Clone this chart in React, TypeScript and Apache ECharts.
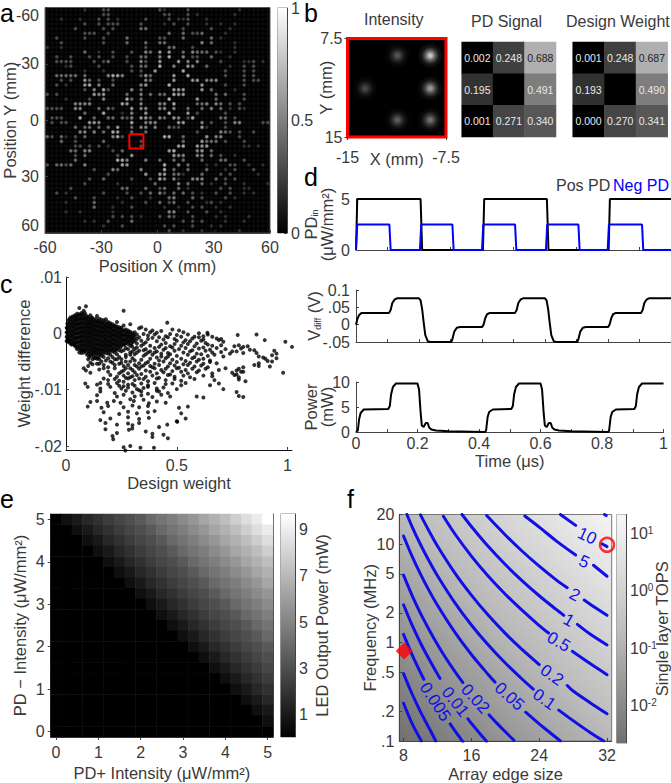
import React, { useEffect, useRef } from "react";
import * as echarts from "echarts";

const FONT = "Liberation Sans";
const INK = "#3a3a3a";

// ---- panel a: spot brightness (0-9), left and right half of each row, top row first
const SPOT_LEFT = [
  "111111112111331111111111","111111111111331111111111","111211121113131211111311","111111113113133311113111",
  "111111311111313111114411","111111113331131111111111","113111113111311114111111","111311111111311114111411",
  "211211111111111111111311","111111114112113111311541","113113111313113113114411","113333111131341113115311",
  "111123111113111111314411","111111112111211111313116","114444414111157751113641","111313116413113111111541",
  "113121116715114111115611","111111113151731111514111","313111111165611114115141","111121111311511118414111",
  "111111555511111176115111","333311551114143111615511","111111114111711121511611","133311171141144143516641",
  "131331111665111111711555","111111414414141611415515","111111155151417611411411","431421314111115731111111",
  "111411311111411111113111","111111331313121111113111","111114415511113141111111","111111314111111311611111",
  "111111411111111775111511","314434115111111176111111","111111111131115411115111","111111111111131111111611",
  "111111111311411111311131","111111113111111211111114","111113111111111144111411","113121111111311113113141",
  "111111311131111211311121","111121111141111121111311","111111111141112111311111","111121121111112111111111",
  "111111111111113131312111","111111112121131111411111","111111111111211131111111","111111111111111111111111",
];
const SPOT_RIGHT = [
  "321111311111111112111111","133111312111111121111111","113122311121111111111111","121311311121121121111111",
  "111113111113111211111111","114114133411112111111111","331114111114121111111111","441111111514111121111111",
  "114411131111111121111111","616114154441321121111111","517115133114111211111111","611161515111131111223121",
  "911511651141111211313111","111117111111113111313111","111611711111113111313111","111611166155511111313311",
  "119111111611113111311111","111666111614111121111111","441766111111414111311111","119111116111411111311111",
  "551711114451541313111111","551511411415141213211111","118111613111113111111111","541651371111144131111111",
  "111166111513113155111133","114331111621113111111111","111111113111154313113111","177114111161551113111111",
  "111114111644413111311111","111167116661111111221211","116811115614111111111111","111655115514131121111111",
  "411414111411144111311111","181151411121211331121121","171411411141112131113111","661442111411131311111211",
  "751521155511413131111111","111151411412113111211112","341141211111131311221111","531414131211311311212111",
  "114511141311113121111111","413411311123121111111111","121121131311211211111111","115511311131121111111111",
  "314311131111212111121111","111113131311112111211111","131311131112121111111111","113112111211111112111111",
];
const SPOT_GRAY = [10, 17, 70, 110, 150, 185, 215, 240, 250, 255];
const SELECTION_BOX = [[-15, 7.5], [-7.5, 7.5], [-7.5, 15], [-15, 15], [-15, 7.5]];

// ---- panel b
const INTENSITY_SPOTS = [
  [-11.2, 8.8, 0.43], [-8.7, 8.8, 1.0], [-13.65, 11.3, 0.36],
  [-8.7, 11.3, 0.78], [-11.2, 13.7, 0.47], [-8.7, 13.7, 0.58],
];
const PD_SIGNAL = [[0.002, 0.248, 0.688], [0.195, null, 0.491], [0.001, 0.271, 0.34]];
const DESIGN_WEIGHT = [[0.001, 0.248, 0.687], [0.193, null, 0.49], [0.0, 0.27, 0.341]];

// ---- panel c: weight difference (x 1e-3) against design weight.
// Each dense column: [design weight, ...differences]
const CLOUD_COLUMNS = [
  [0.003, 1, 0.2, -0.6, -1.4], [0.01, 2.2, 1.4, 0.6, -0.2, -1, -1.5], [0.02, 2.8, 2, 1.2, 0.4, -0.4, -1.2, -1.8],
  [0.03, 3, 2.2, 1.4, 0.6, -0.2, -1, -1.8], [0.04, 3.2, 2.4, 1.6, 0.8, 0, -0.8, -1.6, -2.2],
  [0.05, 3.5, 2.8, 2, 1.2, 0.4, -0.4, -1.2, -2, -2.8], [0.06, 4.5, 3.4, 2.6, 1.8, 1, 0.2, -0.6, -1.4, -2.2, -3.4],
  [0.07, 3.6, 2.8, 2, 1.2, 0.4, -0.4, -1.2, -2, -2.8, -3.5], [0.08, 4, 3, 2.2, 1.4, 0.6, -0.2, -1, -1.8, -2.6, -3.4, -6.2],
  [0.09, 4.8, 3.2, 2.4, 1.6, 0.8, 0, -0.8, -1.6, -2.4, -3.2, -6.6], [0.1, 2.9, 2.1, 1.3, 0.5, -0.3, -1.1, -1.9, -2.7, -3.6, -4.6, -5.8],
  [0.11, 3.2, 2.4, 1.6, 0.8, 0, -0.8, -1.6, -2.4, -3.2, -4, -5.2], [0.12, 2.7, 1.9, 1.1, 0.3, -0.5, -1.3, -2.1, -2.9, -3.7, -4.6, -5.5],
  [0.13, 2.2, 1.4, 0.6, -0.2, -1, -1.8, -2.6, -3.4, -4.4], [0.14, 3.1, 2, 1.2, 0.4, -0.4, -1.2, -2, -2.8, -3.6, -4.5, -5.4],
  [0.15, 2.6, 1.8, 1, 0.2, -0.6, -1.4, -2.2, -3, -3.8, -4.6, -5.4], [0.16, 2.4, 1.6, 0.8, 0, -0.8, -1.6, -2.4, -3.2, -4, -5],
  [0.17, 2.3, 1.5, 0.7, -0.1, -0.9, -1.7, -2.5, -3.3, -4.2, -5.6], [0.18, 2.5, 1.4, 0.6, -0.2, -1, -1.8, -2.6, -3.5, -4.8],
  [0.19, 2, 1.2, 0.4, -0.4, -1.2, -2, -2.8, -3.6, -4.4, -6],
  [0.2, 1.8, 1, 0.2, -0.6, -1.4, -2.2, -3, -3.8, -5], [0.21, 1.6, 0.8, 0, -0.8, -1.6, -2.4, -3.2, -4.2],
  [0.22, 1.4, 0.6, -0.2, -1, -1.8, -2.6, -3.4, -4.6, -5.6], [0.23, 2, 1.2, 0.4, -0.4, -1.2, -2, -2.8, -3.7],
  [0.24, 1.1, 0.3, -0.5, -1.3, -2.1, -3, -4.2], [0.25, 1, 0.2, -0.6, -1.4, -2.2, -3.2, -4.6],
  [0.26, 4, 1.4, 0.4, -0.4, -1.2, -2, -3], [0.27, 0.7, -0.1, -0.9, -1.7, -2.6, -3.8, -5],
  [0.28, 0.5, -0.3, -1.1, -1.9, -2.8], [0.29, 1.6, 0.3, -0.5, -1.3, -2.2, -3.4],
  [0.3, 0, -0.8, -1.6, -2.4], [0.31, 0.2, -0.6, -1.4, -2.8], [0.32, -0.2, -1, -1.8],
  [0.006, 1.7, 0.9, 0.1, -0.7, -1.2], [0.015, 2.5, 1.7, 0.9, 0.1, -0.7, -1.5], [0.025, 2.6, 1.8, 1, 0.2, -0.6, -1.4, -2],
  [0.035, 2.8, 2, 1.2, 0.4, -0.4, -1.2, -2], [0.045, 3, 2.4, 1.6, 0.8, 0, -0.8, -1.6, -2.4], [0.055, 3.2, 2.4, 1.6, 0.8, 0, -0.8, -1.6, -2.6],
  [0.065, 3.2, 2.4, 1.6, 0.8, 0, -0.8, -1.6, -2.4, -3], [0.075, 3.4, 2.6, 1.8, 1, 0.2, -0.6, -1.4, -2.2, -3], [0.085, 3.6, 2.6, 1.8, 1, 0.2, -0.6, -1.4, -2.2, -3],
  [0.095, 2.8, 2, 1.2, 0.4, -0.4, -1.2, -2, -2.8, -3.8], [0.105, 2.5, 1.7, 0.9, 0.1, -0.7, -1.5, -2.3, -3.2, -4.2], [0.115, 2.8, 2, 1.2, 0.4, -0.4, -1.2, -2, -2.8, -3.6],
  [0.125, 2.3, 1.5, 0.7, -0.1, -0.9, -1.7, -2.5, -3.3, -4.2], [0.135, 2.6, 1.8, 1, 0.2, -0.6, -1.4, -2.2, -3, -3.9], [0.145, 2.2, 1.4, 0.6, -0.2, -1, -1.8, -2.6, -3.4, -4.3],
  [0.155, 2, 1.2, 0.4, -0.4, -1.2, -2, -2.8, -3.6], [0.165, 1.9, 1.1, 0.3, -0.5, -1.3, -2.1, -2.9, -3.7], [0.175, 1.9, 1.1, 0.3, -0.5, -1.3, -2.1, -3],
  [0.185, 1.8, 1, 0.2, -0.6, -1.4, -2.2, -3], [0.195, 1.6, 0.8, 0, -0.8, -1.6, -2.4, -3.2], [0.205, 1.3, 0.5, -0.3, -1.1, -1.9, -2.7],
  [0.215, 1.2, 0.4, -0.4, -1.2, -2, -2.9], [0.225, 1, 0.2, -0.6, -1.4, -2.2, -3], [0.235, 0.8, 0, -0.8, -1.6, -2.4],
  [0.245, 0.7, -0.1, -0.9, -1.7, -2.5], [0.255, 0.6, -0.2, -1, -1.8], [0.265, 0.4, -0.4, -1.2, -2],
  [0.275, 0.2, -0.6, -1.4], [0.285, 0.1, -0.7, -1.5], [0.295, -0.2, -1, -1.9], [0.305, -0.3, -1.1],
];
// Sparse scattered points: [design weight, difference]
const CLOUD_SPARSE = [
  [.33,.9],[.34,1.1],[.36,.7],[.38,.2],[.39,.5],[.41,.1],[.43,.4],[.48,.7],[.51,.5],[.53,.2],[.6,0],[.638,.1],[.457,1.9],
  [.35,-.1],[.37,-.4],[.4,-.2],[.45,-.5],[.47,-.1],[.5,-.3],[.58,-.6],[.64,-.2],[.775,-.3],[.86,-.2],[.42,-.7],[.55,-.2],[.62,-.5],
  [.33,-.7],[.37,-1],[.39,-.8],[.44,-1.1],[.46,-.7],[.49,-1],[.52,-.6],[.54,-1.2],[.57,-.9],[.6,-.7],[.62,-1.1],[.66,-.6],[.68,-.9],[.7,-1],
  [.34,-1.3],[.36,-1.6],[.41,-1.4],[.45,-1.7],[.5,-1.3],[.53,-1.6],[.56,-1.4],[.59,-1.8],[.61,-1.3],[.63,-1.7],[.69,-1.2],[.71,-1.5],[.897,-1.2],[.99,-1.5],
  [.35,-1.9],[.38,-2.2],[.43,-2],[.47,-2.3],[.49,-1.9],[.52,-2.2],[.55,-1.9],[.58,-2.3],[.64,-2],[.66,-2.2],[.7,-2.1],[.76,-2.3],[.78,-2.1],[.8,-2.4],[.82,-2.3],
  [.32,-2.5],[.36,-2.8],[.4,-2.6],[.44,-2.9],[.48,-2.5],[.51,-2.8],[.54,-2.6],[.57,-3],[.6,-2.7],[.62,-2.5],[.65,-2.9],[.68,-2.6],[.72,-2.8],[.75,-3.2],[.79,-2.7],[.83,-2.9],[.85,-3],[1.02,-2.4],
  [.33,-3.1],[.37,-3.4],[.41,-3.2],[.46,-3.5],[.49,-3.1],[.53,-3.4],[.56,-3.2],[.59,-3.6],[.63,-3.1],[.66,-3.4],[.7,-3.3],[.74,-3.6],[.77,-3.2],[.8,-3.5],[.86,-3.5],[.94,-3.1],[.95,-3.6],
  [.31,-3.7],[.35,-4],[.39,-3.8],[.43,-4.1],[.47,-3.7],[.5,-4],[.55,-3.8],[.58,-4.2],[.61,-3.7],[.64,-4],[.67,-3.8],[.71,-4.1],[.87,-4.1],[.89,-4.3],[.93,-3.9],[.95,-4.4],
  [.3,-4.4],[.34,-4.7],[.38,-4.5],[.42,-4.8],[.45,-4.4],[.48,-4.7],[.52,-4.5],[.54,-4.9],[.57,-4.4],[.6,-4.7],[.62,-4.5],[.65,-4.8],[.9,-4.5],[.91,-4.9],
  [.29,-5],[.33,-5.3],[.37,-5.1],[.4,-5.4],[.44,-5],[.47,-5.3],[.5,-5.1],[.53,-5.5],[.56,-5.2],[.59,-5],[.62,-5.4],[.65,-5.1],[.68,-5.3],[.87,-5.3],[.85,-5.6],[.93,-5],
  [.28,-5.6],[.32,-5.9],[.35,-5.7],[.39,-6],[.42,-5.6],[.46,-5.9],[.49,-5.7],[.51,-6.1],[.55,-5.6],[.58,-5.9],[.61,-5.7],[.64,-6],[.78,-6.3],[.8,-6],[.87,-5.8],[.92,-5.9],
  [.27,-6.2],[.3,-6.5],[.33,-6.3],[.36,-6.6],[.4,-6.2],[.43,-6.5],[.45,-6.3],[.48,-6.7],[.5,-6.2],[.54,-6.5],[.57,-6.3],[.6,-6.6],[.63,-6.3],[.69,-6.5],[.72,-6.2],[.77,-6.6],[.79,-6.8],
  [.11,-7],[.25,-6.8],[.28,-7.1],[.31,-6.9],[.34,-7.2],[.38,-6.8],[.41,-7.1],[.44,-6.9],[.47,-7.3],[.52,-6.8],[.55,-7.1],[.59,-6.9],[.66,-7.1],[.75,-7],[.77,-7.3],[.8,-6.8],[.98,-7],
  [.2,-7.4],[.23,-7.7],[.26,-7.5],[.29,-7.8],[.32,-7.4],[.36,-7.7],[.39,-7.5],[.42,-7.9],[.46,-7.4],[.49,-7.7],[.53,-7.5],[.56,-7.8],[.62,-7.5],[.66,-7.6],[.76,-7.4],[.78,-7.8],
  [.17,-8],[.19,-8.3],[.22,-8.1],[.24,-8.4],[.28,-8],[.31,-8.3],[.35,-8.1],[.37,-8.5],[.41,-8],[.45,-8.3],[.49,-8.1],[.52,-8.4],[.58,-8.1],[.67,-8.3],[.78,-8.2],[.81,-8.5],
  [.087,-8.9],[.14,-9.1],[.155,-8.8],[.19,-9],[.23,-8.8],[.28,-9.1],[.34,-8.9],[.37,-9.2],[.4,-8.8],[.45,-9],[.48,-8.9],[.52,-9.2],[.54,-8.8],[.65,-9.2],[.69,-8.9],
  [.098,-9.5],[.155,-9.8],[.2,-9.5],[.25,-9.8],[.28,-9.6],[.32,-9.9],[.37,-9.5],[.41,-9.8],[.44,-9.6],[.5,-9.9],[.71,-9.9],[.26,-9.4],[.31,-9.3],
  [.155,-10.3],[.22,-10.6],[.27,-10.2],[.3,-10.5],[.34,-10.3],[.37,-10.7],[.42,-10.3],[.46,-10.6],[.77,-10.4],[.33,-10.1],[.41,-10.2],
  [.14,-11],[.23,-11.2],[.26,-10.9],[.31,-11.2],[.34,-11],[.39,-11.3],[.43,-10.9],[.47,-11.2],[.59,-11.2],[.62,-11.4],[.78,-11.1],[.8,-11.3],
  [.11,-12.2],[.14,-12],[.186,-12.3],[.216,-12],[.246,-12.3],[.306,-12],[.374,-12.4],[.41,-12.1],[.45,-12.3],[.29,-11.7],[.35,-11.8],
  [.098,-13],[.16,-13.2],[.19,-12.9],[.26,-13.1],[.3,-12.8],[.33,-13.1],[.37,-12.9],[.51,-13.2],[.55,-13],
  [.17,-14],[.24,-14.3],[.28,-13.9],[.32,-14.2],[.37,-14],[.4,-13.8],[.52,-14.2],
  [.155,-15.4],[.2,-15.1],[.28,-14.9],[.33,-15.2],[.374,-15],[.5,-15.6],[.54,-15.1],
  [.178,-15.9],[.23,-16.2],[.28,-16],[.3,-16.3],[.33,-15.9],[.457,-16.2],[.502,-15.7],
  [.178,-17],[.284,-17.1],[.299,-16.9],[.42,-16.6],
  [.21,-18.2],[.23,-17.7],[.36,-17.4],[.39,-17.8],[.44,-18],[.39,-18.4],[.46,-18.6],
  [.26,-20.2],[.29,-20],[.336,-20.3],[.397,-20.3],[.268,-20.8],[.213,-18.8],
  // extra dark patches around weights 0.15 to 0.35
  [.15,-6.4],[.17,-6.2],[.19,-6.8],[.21,-5.2],[.22,-6.2],[.24,-5.4],[.26,-5.8],[.23,-4.6],[.25,-5.2],[.27,-4.2],[.29,-3.8],[.3,-3.2],
  [.31,-4.8],[.32,-3.4],[.34,-2.2],[.35,-3],[.36,-3.7],[.38,-3.2],[.26,-6.6],[.29,-6.2],[.31,-5.6],[.34,-5.9],[.36,-5.3],[.38,-5.8],
  [.41,-4.3],[.4,-3.4],[.42,-2.4],[.43,-3.6],[.45,-2.6],[.46,-4.1],[.24,-7.1],[.27,-7.9],[.3,-7.6],[.33,-8],[.26,-8.6],[.3,-9],[.24,-9.3],[.35,-9.7],
];

// ---- panel d
const POS_PD = [[0,0],[0.004,5],[0.205,5],[0.21,0],[0.403,0],[0.407,5],[0.606,5],[0.611,0],[0.802,0],[0.806,5],[1,5]];
const NEG_PD = [[0,0],[0.004,2.5],[0.106,2.5],[0.11,0],[0.203,0],[0.207,2.5],[0.306,2.5],[0.31,0],[0.4,0],[0.404,2.5],[0.505,2.5],[0.509,0],[0.603,0],[0.607,2.5],[0.706,2.5],[0.71,0],[0.799,0],[0.803,2.5],[0.908,2.5],[0.912,0],[1,0]];
const V_DIFF_MV = [[0,0],[0.004,15],[0.01,28],[0.018,34],[0.105,34],[0.11,42],[0.115,62],[0.122,72],[0.13,76],[0.2,76],[0.205,70],[0.21,45],[0.215,5],[0.22,-30],[0.228,-48],[0.235,-50],[0.302,-50],[0.306,-42],[0.312,-20],[0.32,-9],[0.33,-7],[0.4,-7],[0.405,0],[0.41,18],[0.416,30],[0.425,34],[0.505,34],[0.51,42],[0.515,62],[0.522,72],[0.53,76],[0.6,76],[0.605,70],[0.61,45],[0.615,5],[0.62,-30],[0.628,-48],[0.635,-50],[0.702,-50],[0.706,-42],[0.712,-20],[0.72,-9],[0.73,-7],[0.8,-7],[0.805,0],[0.81,18],[0.816,30],[0.825,34],[0.905,34],[0.91,42],[0.915,62],[0.922,72],[0.93,76],[1,76]];
const POWER_MW = [[0,0],[0.006,0.3],[0.01,2.5],[0.015,3.8],[0.025,4.5],[0.105,4.6],[0.11,5.2],[0.114,7.5],[0.12,9],[0.13,9.7],[0.2,9.7],[0.205,8.5],[0.21,4],[0.214,1.3],[0.22,1],[0.227,1.8],[0.233,1.8],[0.238,0.9],[0.245,0.5],[0.26,0.3],[0.3,0.15],[0.42,0],[0.423,0.3],[0.428,3],[0.433,4],[0.445,4.5],[0.505,4.6],[0.51,5.2],[0.514,7.5],[0.52,9],[0.53,9.7],[0.6,9.7],[0.605,8.5],[0.61,4],[0.614,1.3],[0.62,1],[0.627,1.8],[0.633,1.8],[0.638,0.9],[0.645,0.5],[0.66,0.3],[0.7,0.15],[0.82,0],[0.823,0.3],[0.828,3],[0.833,4],[0.845,4.5],[0.905,4.6],[0.91,5.2],[0.914,7.5],[0.92,9],[0.93,9.7],[1,9.7]];

// ---- panel e: LED power (mW), top row (PD- = 5) first
const INTENSITY_STEPS = ["0","0.25","0.5","0.75","1","1.25","1.5","1.75","2","2.25","2.5","2.75","3","3.25","3.5","3.75","4","4.25","4.5","4.75","5"];
const LED_POWER = [
  [0,.6,1,1.5,1.9,2.3,2.7,3,3.4,4,4.4,4.8,5.3,5.7,6.3,6.7,7.2,7.8,8.4,8.9,9.7],
  [0,0,.6,1,1.5,1.9,2.3,2.7,3,3.4,4,4.4,4.8,5.3,5.7,6.3,6.7,7.2,7.8,8.4,8.9],
  [0,0,0,.6,1,1.5,1.9,2.3,2.7,3,3.4,4,4.4,4.8,5.3,5.7,6.3,6.7,7.2,7.8,8.4],
  [0,0,0,0,.6,1,1.5,1.9,2.3,2.7,3,3.4,4,4.4,4.8,5.3,5.7,6.3,6.7,7.2,7.8],
  [0,0,0,0,0,.6,1,1.5,1.9,2.3,2.7,3,3.4,4,4.4,4.8,5.3,5.7,6.3,6.7,7.2],
  [0,0,0,0,0,0,.6,1,1.5,1.9,2.3,2.7,3,3.4,4,4.4,4.8,5.3,5.7,6.3,6.7],
  [0,0,0,0,0,0,0,.6,1,1.5,1.9,2.3,2.7,3,3.4,4,4.4,4.8,5.3,5.7,6.3],
  [0,0,0,0,0,0,0,0,.6,1,1.5,1.9,2.3,2.7,3,3.4,4,4.4,4.8,5.3,5.7],
  [0,0,0,0,0,0,0,0,0,.6,1,1.5,1.9,2.3,2.7,3,3.4,4,4.4,4.8,5.3],
  [0,0,0,0,0,0,0,0,0,0,.6,1,1.5,1.9,2.3,2.7,3,3.4,4,4.4,4.8],
  [0,0,0,0,0,0,0,0,0,0,0,.6,1,1.5,1.9,2.3,2.7,3,3.4,4,4.4],
  [0,0,0,0,0,0,0,0,0,0,0,0,.6,1,1.5,1.9,2.3,2.7,3,3.4,4],
  [0,0,0,0,0,0,0,0,0,0,0,0,0,.6,1,1.5,1.9,2.3,2.7,3,3.4],
  [0,0,0,0,0,0,0,0,0,0,0,0,0,0,.6,1,1.5,1.9,2.3,2.7,3],
  [0,0,0,0,0,0,0,0,0,0,0,0,0,0,0,.6,1,1.5,1.9,2.3,2.7],
  [0,0,0,0,0,0,0,0,0,0,0,0,0,0,0,0,.6,1,1.5,1.9,2.3],
  [0,0,0,0,0,0,0,0,0,0,0,0,0,0,0,0,0,.6,1,1.5,1.9],
  [0,0,0,0,0,0,0,0,0,0,0,0,0,0,0,0,0,0,.6,1,1.5],
  [0,0,0,0,0,0,0,0,0,0,0,0,0,0,0,0,0,0,0,.6,1],
  [0,0,0,0,0,0,0,0,0,0,0,0,0,0,0,0,0,0,0,0,.6],
  [0,0,0,0,0,0,0,0,0,0,0,0,0,0,0,0,0,0,0,0,.1],
];

// ---- panel f: contour pieces [edge size, MHz], gaps are where the labels sit
const CONTOURS = [
  [[8,.242],[9,.151],[10.1,.1]],
  [[8,.484],[9,.302],[10,.198],[11,.136],[11.8,.1]],
  [[8,1.21],[9,.755],[10,.496],[10.4,.424]], [[13.5,.149],[14,.129],[15,.098]],
  [[8,2.42],[9,1.51],[10,.99],[11,.68],[12,.478],[12.3,.433]], [[15.6,.168],[16,.151],[17,.119],[17.8,.099]],
  [[8,4.84],[9,3.02],[10,1.98],[11,1.36],[12,.956],[13,.692],[14,.516],[15,.392]], [[18.1,.184],[19,.152],[20,.124],[21,.102]],
  [[8,12.1],[9,7.55],[10,4.96],[11,3.39],[12,2.39],[14,1.29],[16,.756],[18,.472],[18.8,.396]], [[22.4,.196],[24,.149],[25,.127],[26.5,.1]],
  [[8.4,20],[9,15.1],[10,9.92],[11,6.78],[12,4.78],[14,2.58],[16,1.51],[18,.944],[20,.62],[22,.424],[23.3,.336]], [[26.3,.206],[28,.161],[30,.122],[31.6,.1]],
  [[10,19.8],[11,13.6],[12,9.56],[14,5.16],[16,3.03],[18,1.89],[20,1.24],[22,.847],[24,.598]], [[27.3,.366],[28,.322],[30,.245],[32,.189]],
  [[12.7,19.2],[14,12.9],[16,7.56],[18,4.72],[20,3.1],[22,2.12],[24,1.49],[25.1,1.25]], [[27.9,.816],[30,.612],[32,.472]],
  [[14.9,20],[16,15.1],[18,9.44],[20,6.2],[22,4.24],[24,2.99],[26,2.17],[26.9,1.89]], [[28.5,1.53],[30,1.22],[32,.944]],
  [[17.8,19.5],[20,12.4],[22,8.47],[24,5.98],[26,4.34],[27.3,3.61]], [[29.3,2.7],[31,2.15],[32,1.89]],
  [[22.3,19.3],[24,14.9],[26,10.8],[28.3,7.75]], [[30.4,6.1],[32,4.72]],
  [[26.5,20],[28.3,15.5]], [[31.4,10.1],[32,9.44]],
  [[31.7,20],[31.9,19.5]],
];
const CONTOUR_LABELS: [number, number, string, number][] = [
  [11.74,.25,"0.005",-57],[14.1,.25,"0.01",-52],[16.46,.268,"0.02",-48],[20.5,.283,"0.05",-42],[24.6,.265,"0.1",-35],
  [25.5,.468,"0.2",-35],[26.3,1.016,"0.5",-30],[27.5,1.68,"1",-30],[28.2,3.05,"2",-28],[29.3,6.63,"5",-25],[29.65,12.1,"10",-25],
];
const DIAMOND_POINT = [[8.08, 0.82]];
const CIRCLE_POINT = [[32, 9.85]];
const FREQ_TICKS = [0.1, 0.2, 0.5, 1, 2, 5, 10, 20];
const EDGE_TICKS = [8, 16, 24, 32];

const gray = (g: number, a = 1) => `rgba(${g},${g},${g},${a})`;
const tickStr = (v: number) => String(v).replace(/^0\./, ".").replace(/^-0\./, "-.");

function buildOption() {
  const grid: any[] = [], xAxis: any[] = [], yAxis: any[] = [], series: any[] = [], visualMap: any[] = [];
  const box = (x0: number, y0: number, x1: number, y1: number, extra: any = {}) => ({
    left: x0, top: y0, width: x1 - x0, height: y1 - y0, ...extra,
  });
  const axis = (o: any = {}) => ({
    nameLocation: "middle",
    nameMoveOverlap: false,
    nameTextStyle: { color: INK, fontSize: 16.5, fontFamily: FONT, ...(o.nameTextStyle || {}) },
    splitLine: { show: false },
    ...o,
    axisLine: { show: true, onZero: false, lineStyle: { color: "#444", width: 1 }, ...(o.axisLine || {}) },
    axisTick: { show: true, inside: true, length: 3, lineStyle: { color: "#444", width: 1 }, ...(o.axisTick || {}) },
    axisLabel: { color: INK, fontSize: 16, fontFamily: FONT, margin: 6, hideOverlap: false, showMinLabel: true, showMaxLabel: true, ...(o.axisLabel || {}) },
  });
  const hidden = (o: any = {}) => ({ show: false, ...o });
  const addGrid = (g: any, x: any, y: any) => {
    grid.push(g);
    xAxis.push({ gridIndex: grid.length - 1, ...x });
    yAxis.push({ gridIndex: grid.length - 1, ...y });
    return { xAxisIndex: xAxis.length - 1, yAxisIndex: yAxis.length - 1 };
  };
  const colorBar = (x0: number, y0: number, x1: number, y1: number, lo: number, hi: number, stops: any[], y: any) => {
    const idx = addGrid(
      box(x0, y0, x1, y1, { show: true, borderColor: "#888", borderWidth: 1 }),
      hidden({ type: "value", min: 0, max: 1 }),
      axis({ type: "value", position: "right", min: lo, max: hi, ...y })
    );
    series.push({
      type: "custom", ...idx, data: [[0.5, lo, hi]], encode: { x: 0, y: [1, 2] }, silent: true,
      renderItem: (p: any, api: any) => {
        const a = api.coord([0, api.value(2)]);
        const b = api.coord([0, api.value(1)]);
        return {
          type: "rect",
          shape: { x: p.coordSys.x, y: a[1], width: p.coordSys.width, height: b[1] - a[1] },
          style: { fill: new echarts.graphic.LinearGradient(0, 0, 0, 1, stops) },
        };
      },
    });
  };
  const blackWhite = [{ offset: 0, color: "#fff" }, { offset: 1, color: "#000" }];

  // ---------- a
  const aIdx = addGrid(
    box(44, 7.5, 270, 233, { show: true, backgroundColor: "#000", borderColor: "#555" }),
    axis({ type: "value", min: -60, max: 60, interval: 30, name: "Position X (mm)", nameGap: 24 }),
    axis({ type: "value", min: -60, max: 60, interval: 30, inverse: true, name: "Position Y (mm)", nameGap: 27,
      axisLabel: { verticalAlignMinLabel: "top", verticalAlignMaxLabel: "bottom" } })
  );
  const spotData: any[] = [];
  SPOT_LEFT.forEach((left, r) => {
    const row = left + SPOT_RIGHT[r];
    for (let c = 0; c < row.length; c++) {
      const d = Number(row[c]);
      spotData.push({
        value: [-58.75 + 2.5 * c, -58.75 + 2.5 * r],
        itemStyle: {
          color: new echarts.graphic.RadialGradient(0.5, 0.5, 0.5, [
            { offset: 0, color: gray(SPOT_GRAY[d], 1) },
            { offset: 0.4, color: gray(SPOT_GRAY[d], 0.8) },
            { offset: 1, color: gray(SPOT_GRAY[d], 0) },
          ]),
        },
      });
    }
  });
  series.push({ type: "scatter", ...aIdx, symbolSize: 5, data: spotData, silent: true, z: 2 });
  series.push({
    type: "line", ...aIdx, data: SELECTION_BOX, showSymbol: false, symbol: "none", silent: true, z: 3,
    lineStyle: { color: "#ff0000", width: 2 },
  });
  colorBar(277.5, 7.5, 287, 233, 0, 1, blackWhite, { interval: 0.5, axisLabel: { margin: 4 } });

  // ---------- b intensity
  const bIdx = addGrid(
    box(347.5, 38.5, 446, 137, { show: true, backgroundColor: "#000", borderColor: "#ff0000", borderWidth: 3 }),
    axis({ type: "value", min: -15, max: -7.5, interval: 7.5, name: "X (mm)", nameGap: 13,
      axisTick: { inside: false, length: 3 }, axisLine: { show: false }, axisLabel: { margin: 12 } }),
    axis({ type: "value", min: 7.5, max: 15, interval: 7.5, inverse: true, name: "Y (mm)", nameGap: 13,
      axisTick: { inside: false, length: 3 }, axisLine: { show: false }, axisLabel: { margin: 5 } })
  );
  series.push({
    type: "scatter", ...bIdx, symbolSize: 26, silent: true,
    data: INTENSITY_SPOTS.map(([x, y, v]) => {
      const g = Math.round(v * 255);
      return {
        value: [x, y],
        itemStyle: {
          color: new echarts.graphic.RadialGradient(0.5, 0.5, 0.5, [
            { offset: 0, color: gray(g, 1) },
            { offset: 0.15, color: gray(g, 0.9) },
            { offset: 0.35, color: gray(g, 0.5) },
            { offset: 0.65, color: gray(g, 0.12) },
            { offset: 1, color: gray(g, 0) },
          ]),
        },
      };
    }),
  });

  // ---------- b tables
  const table = (x0: number, x1: number, values: (number | null)[][]) => {
    const idx = addGrid(
      box(x0, 42, x1, 137),
      hidden({ type: "category", data: ["0", "1", "2"] }),
      hidden({ type: "category", data: ["0", "1", "2"], inverse: true })
    );
    visualMap.push({ show: false, seriesIndex: series.length, dimension: 2, min: 0, max: 1, inRange: { color: ["#000000", "#ffffff"] } });
    series.push({
      type: "heatmap", ...idx, silent: true,
      data: values.flatMap((row, r) =>
        row.map((v, c) => ({
          value: [c, r, v === null ? 0 : v],
          label: {
            show: true, fontFamily: FONT, fontSize: 10.5,
            color: v !== null && v > 0.6 ? "#222" : "#e8e8e8",
            formatter: v === null ? "" : v.toFixed(3),
          },
        }))
      ),
    });
  };
  table(461.7, 556, PD_SIGNAL);
  table(572.7, 667.7, DESIGN_WEIGHT);

  // ---------- c
  const cIdx = addGrid(
    box(66, 277, 292, 450),
    axis({ type: "value", min: 0, max: 1.02, name: "Design weight", nameGap: 24,
      axisLabel: { customValues: [0, 0.5, 1], margin: 7, formatter: (v: number) => String(v) },
      axisTick: { customValues: [0, 0.5, 1], inside: true },
      axisLine: { lineStyle: { color: "#111" } } }),
    axis({ type: "value", min: -20.7, max: 10, name: "Weight difference", nameGap: 34,
      axisLabel: { customValues: [-20, -10, 0, 10], margin: 4, formatter: (v: number) => (v === 0 ? "0" : tickStr(v / 1000)) },
      axisTick: { customValues: [-20, -10, 0, 10], inside: true },
      axisLine: { lineStyle: { color: "#111" } } })
  );
  const cloud: number[][] = [...CLOUD_SPARSE];
  CLOUD_COLUMNS.forEach(([x, ...ys]) => ys.forEach((y) => cloud.push([x, y])));
  series.push({ type: "scatter", ...cIdx, data: cloud, symbolSize: 4, silent: true, clip: false, itemStyle: { color: "#000" } });

  // ---------- d
  const tenths = [0, 0.1, 0.2, 0.3, 0.4, 0.5, 0.6, 0.7, 0.8, 0.9, 1];
  const fifths = [0, 0.2, 0.4, 0.6, 0.8, 1];
  const timeAxis = (labels: boolean) => axis({
    type: "value", min: 0, max: 1, ...(labels ? { name: "Time (μs)", nameGap: 20 } : {}),
    axisTick: { customValues: tenths, inside: true },
    axisLabel: labels
      ? { customValues: fifths, margin: 3, formatter: (v: number) => String(v) }
      : { show: false },
  });
  const nameRich = {
    a: { fontSize: 16.5, color: INK, fontFamily: FONT, lineHeight: 16 },
    s: { fontSize: 9, color: INK, fontFamily: FONT, lineHeight: 16, verticalAlign: "bottom" },
  };
  const d1 = addGrid(box(356, 199, 671, 250), timeAxis(false),
    axis({ type: "value", min: 0, max: 5, interval: 5, name: "{a|PD}{s|in}\n{a|(μW/mm²)}", nameGap: 21, nameTextStyle: { rich: nameRich } }));
  const d2 = addGrid(box(356, 290, 671, 342), timeAxis(false),
    axis({ type: "value", min: -50, max: 100, interval: 50, name: "{a|V}{s|diff}{a| (V)}", nameGap: 34, nameTextStyle: { rich: nameRich },
      axisLabel: { formatter: (v: number) => (v === 100 ? "0.1" : v === 0 ? "0" : tickStr(v / 1000)) } }));
  const d3 = addGrid(box(356, 382, 671, 432), timeAxis(true),
    axis({ type: "value", min: 0, max: 10, interval: 5, name: "{a|Power}\n{a|(mW)}", nameGap: 21, nameTextStyle: { rich: nameRich } }));
  const trace = (idx: any, data: number[][], color: string) =>
    series.push({ type: "line", ...idx, data, symbol: "none", clip: false, silent: true, lineStyle: { color, width: 2 } });
  trace(d1, POS_PD, "#000000");
  trace(d1, NEG_PD, "#0000ff");
  trace(d2, V_DIFF_MV, "#000000");
  trace(d3, POWER_MW, "#000000");

  // ---------- e
  const eIdx = addGrid(
    box(50.7, 514, 273, 737),
    axis({ type: "category", data: INTENSITY_STEPS, name: "PD+ Intensity (μW/mm²)", nameGap: 27,
      axisLabel: { interval: 3, margin: 7 }, axisTick: { interval: 3, alignWithLabel: true, inside: false } }),
    axis({ type: "category", data: INTENSITY_STEPS, name: "PD − Intensity (μW/mm²)", nameGap: 22,
      axisLabel: { interval: 3, margin: 6 }, axisTick: { interval: 3, alignWithLabel: true, inside: false } })
  );
  xAxis.push(axis({ gridIndex: grid.length - 1, type: "category", data: INTENSITY_STEPS, position: "top",
    axisLabel: { show: false }, axisTick: { interval: 3, alignWithLabel: true, inside: true, lineStyle: { color: "#777" } } }));
  yAxis.push(axis({ gridIndex: grid.length - 1, type: "category", data: INTENSITY_STEPS, position: "right",
    axisLabel: { show: false }, axisTick: { interval: 3, alignWithLabel: true, inside: true, lineStyle: { color: "#777" } } }));
  visualMap.push({ show: false, seriesIndex: series.length, dimension: 2, min: 0.05, max: 9.65, inRange: { color: ["#000000", "#ffffff"] } });
  series.push({
    type: "heatmap", ...eIdx, silent: true, z: 1,
    data: LED_POWER.flatMap((row, r) => row.map((v, c) => [c, 20 - r, v])),
  });
  colorBar(280.7, 514, 295, 737, 0.05, 9.65, blackWhite, {
    name: "LED Output Power (mW)", nameGap: 18,
    axisLabel: { customValues: [1, 3, 5, 7, 9], margin: 4, formatter: (v: number) => String(v) },
    axisTick: { customValues: [1, 3, 5, 7, 9], inside: true },
  });

  // ---------- f
  const fIdx = addGrid(
    box(399.3, 514.5, 611.7, 743, {
      show: true, borderColor: "#777",
      backgroundColor: new echarts.graphic.LinearGradient(0, 1, 1, 0, [
        { offset: 0, color: gray(112) }, { offset: 0.5, color: gray(185) }, { offset: 1, color: gray(245) },
      ]),
    }),
    axis({ type: "value", min: 7.5, max: 32.55, name: "Array edge size", nameGap: 24,
      axisLabel: { customValues: EDGE_TICKS, margin: 6, formatter: (v: number) => String(v) },
      axisTick: { customValues: EDGE_TICKS, inside: true } }),
    axis({ type: "log", logBase: 10, min: 0.1, max: 20, name: "Frequency (MHz)", nameGap: 21,
      axisLabel: { customValues: FREQ_TICKS, margin: 5, formatter: (v: number) => tickStr(Math.round(v * 10) / 10) },
      axisTick: { customValues: FREQ_TICKS, inside: true } })
  );
  CONTOURS.forEach((piece) => {
    series.push({ type: "line", ...fIdx, data: piece, smooth: 0.3, symbol: "none", silent: true, z: 3,
      lineStyle: { color: "#1010e6", width: 3, cap: "round" } });
  });
  series.push({
    type: "scatter", ...fIdx, symbolSize: 1, silent: true, z: 4, itemStyle: { color: "transparent" },
    data: CONTOUR_LABELS.map(([n, f, text, rot]) => ({
      value: [n, f],
      label: { show: true, position: "inside", formatter: text, rotate: rot, color: "#1010e6", fontSize: 17, fontFamily: FONT, opacity: 1 },
    })),
  });
  series.push({ type: "scatter", ...fIdx, data: DIAMOND_POINT, symbol: "diamond", symbolSize: 17, clip: false, silent: true, z: 5, itemStyle: { color: "#ff0000" } });
  series.push({ type: "scatter", ...fIdx, data: CIRCLE_POINT, symbol: "circle", symbolSize: 14, clip: false, silent: true, z: 5,
    itemStyle: { color: "transparent", borderColor: "#ff0000", borderWidth: 2.5 } });
  const decadeRich = {
    a: { fontSize: 16, color: INK, fontFamily: FONT },
    b: { fontSize: 10, color: INK, fontFamily: FONT, verticalAlign: "top" },
  };
  colorBar(616.7, 514.5, 628, 743, -2.65, 1.33,
    [{ offset: 0, color: gray(248) }, { offset: 0.5, color: gray(190) }, { offset: 1, color: gray(112) }],
    {
      name: "Single layer TOPS", nameGap: 27,
      axisLabel: { customValues: [-2, -1, 0, 1], margin: 4, rich: decadeRich, formatter: (v: number) => `{a|10}{b|${v}}` },
      axisTick: { customValues: [-2, -1, 0, 1], inside: true },
    });

  const letter = (t: string, x: number, y: number) => ({
    type: "text", left: x, top: y, silent: true,
    style: { text: t, fontSize: 25, fontFamily: FONT, fill: "#000" },
  });
  const text = (t: string, x: number, y: number, fill = INK) => ({
    type: "text", left: x, top: y, silent: true,
    style: { text: t, fontSize: 16, fontFamily: FONT, fill },
  });

  return {
    animation: false,
    backgroundColor: "#ffffff",
    textStyle: { fontFamily: FONT },
    grid, xAxis, yAxis, series, visualMap,
    graphic: [
      letter("a", 0, 0), letter("b", 304, 0), letter("c", 0, 271), letter("d", 304, 164),
      letter("e", 0, 486), letter("f", 347, 486),
      text("Intensity", 364, 11), text("PD Signal", 471, 13), text("Design Weight", 566, 13),
      text("Pos PD", 556, 177), text("Neg PD", 613, 177, "#0000ff"),
    ],
  };
}

export default function App() {
  const ref = useRef<HTMLDivElement>(null);
  useEffect(() => {
    const chart = echarts.init(ref.current!, undefined, { renderer: "svg" });
    chart.setOption(buildOption() as any);
    return () => chart.dispose();
  }, []);
  return <div ref={ref} style={{ position: "absolute", left: 0, top: 0, width: 671, height: 783 }} />;
}
